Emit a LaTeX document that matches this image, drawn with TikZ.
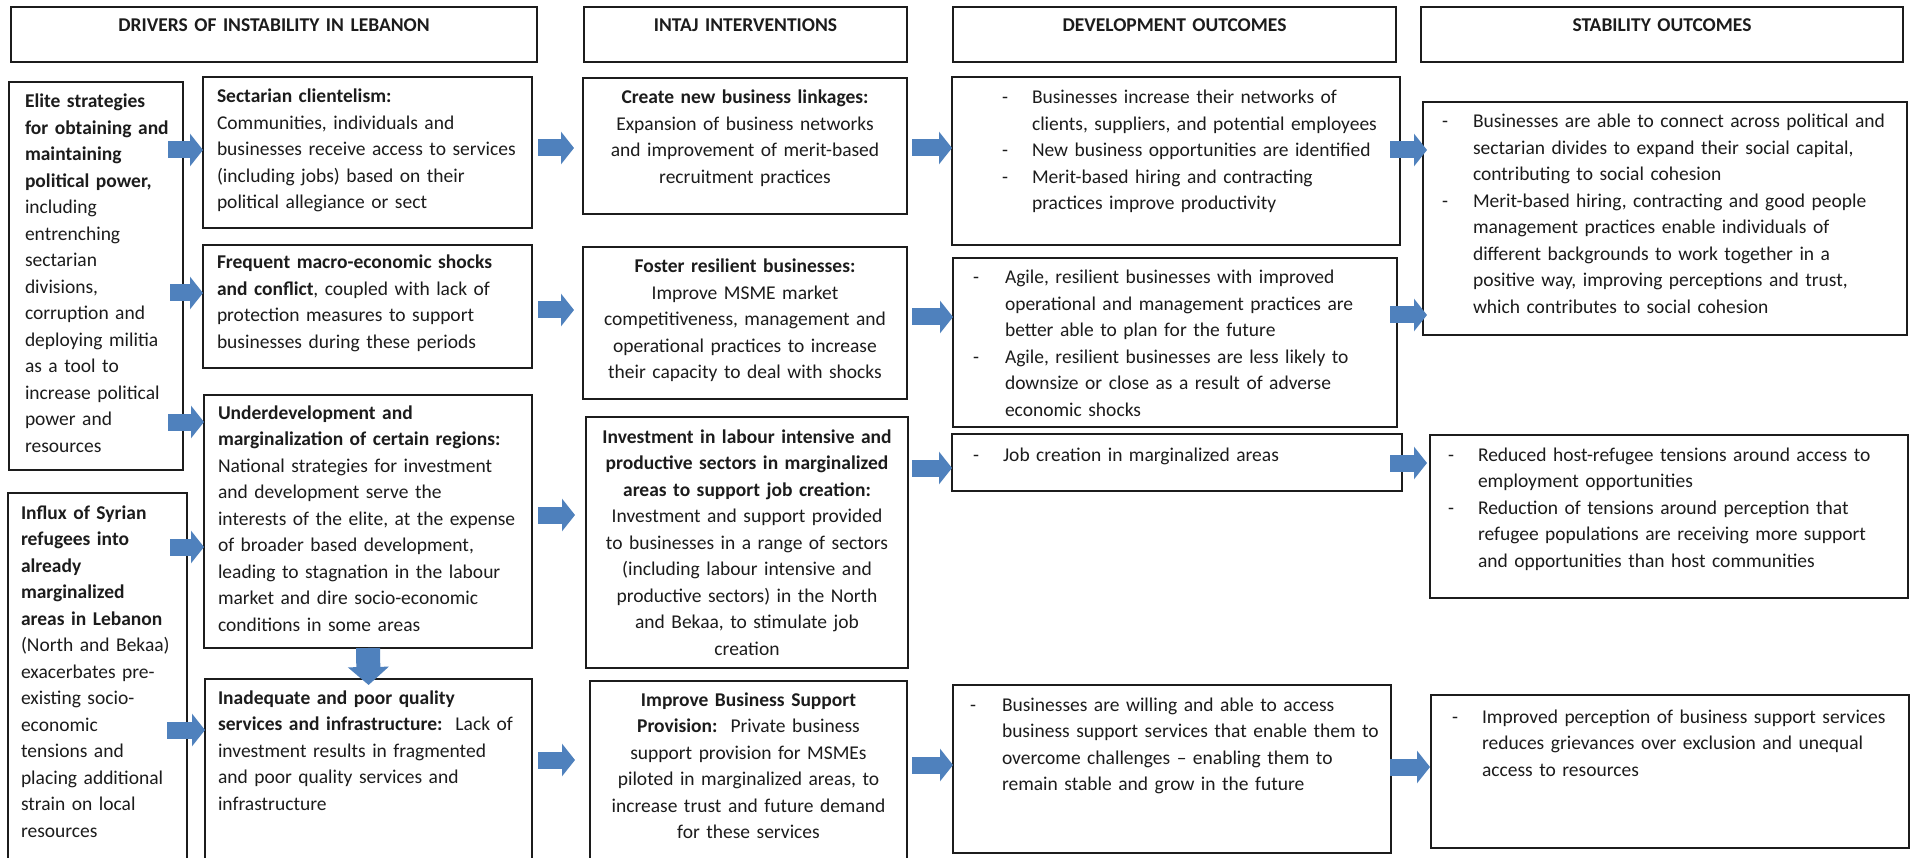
\documentclass[tikz,border=0pt]{standalone}
\usepackage{fontspec}
\setmainfont{Carlito}
\usetikzlibrary{arrows.meta}
\definecolor{arrowblue}{RGB}{79,129,189}
\definecolor{ink}{RGB}{28,28,28}
\begin{document}
\begin{tikzpicture}[x=1pt,y=-1pt,
  box/.style={draw=ink, line width=1.3pt, inner sep=0pt, outer sep=0pt, anchor=north west},
  txt/.style={inner sep=0pt, outer sep=0pt, font=\fontsize{19.5}{26.5}\selectfont, text=ink},
  ltxt/.style={txt, anchor=base west, align=left, text width=470pt},
  ctxt/.style={txt, anchor=base, align=center},
  htxt/.style={ctxt, font=\fontsize{19.5}{26.5}\selectfont\bfseries},
  barrow/.style={draw=arrowblue, line width=17pt, -{Triangle[length=13pt, width=32pt]}},
  darrow/.style={draw=arrowblue, line width=24pt, -{Triangle[length=18pt, width=40pt]}}
]
\useasboundingbox[fill=white] (0,0) rectangle (1911,858);

% ---------- header boxes ----------
\node[box, minimum width=526pt, minimum height=55pt] (h1) at (11,7) {};
\node[box, minimum width=323pt, minimum height=55pt] (h2) at (584,7) {};
\node[box, minimum width=443pt, minimum height=55pt] (h3) at (953,7) {};
\node[box, minimum width=482pt, minimum height=55pt] (h4) at (1421,7) {};
\node[htxt, text width=500pt] (h1t) at (h1.center |- 0,32) {DRIVERS OF INSTABILITY IN LEBANON};
\node[htxt, text width=300pt] (h2t) at (h2.center |- 0,32) {INTAJ INTERVENTIONS};
\node[htxt, text width=420pt] (h3t) at (h3.center |- 0,32) {DEVELOPMENT OUTCOMES};
\node[htxt, text width=460pt] (h4t) at (h4.center |- 0,32) {STABILITY OUTCOMES};

% ---------- column 1 ----------
\node[box, minimum width=174pt, minimum height=388pt] (elite) at (9,82) {};
\node[ltxt] (elitet) at (25,108) {\textbf{Elite strategies}\\\textbf{for obtaining and}\\\textbf{maintaining}\\\textbf{political power,}\\including\\entrenching\\sectarian\\divisions,\\corruption and\\deploying militia\\as a tool to\\increase political\\power and\\resources};

\node[box, minimum width=179pt, minimum height=370pt] (influx) at (8,493) {};
\node[ltxt] (influxt) at (21,519) {\textbf{Influx of Syrian}\\\textbf{refugees into}\\\textbf{already}\\\textbf{marginalized}\\\textbf{areas in Lebanon}\\(North and Bekaa)\\exacerbates pre-\\existing socio-\\economic\\tensions and\\placing additional\\strain on local\\resources};

% ---------- column 2 ----------
\node[box, minimum width=329pt, minimum height=151pt] (sect) at (203,77) {};
\node[ltxt] (sectt) at (217,103) {\textbf{Sectarian clientelism:}\\Communities, individuals and\\businesses receive access to services\\(including jobs) based on their\\political allegiance or sect};

\node[box, minimum width=329pt, minimum height=123pt] (freq) at (203,245) {};
\node[ltxt] (freqt) at (217,269) {\textbf{Frequent macro-economic shocks}\\\textbf{and conflict}, coupled with lack of\\protection measures to support\\businesses during these periods};

\node[box, minimum width=328pt, minimum height=253pt] (under) at (204,395) {};
\node[ltxt] (undert) at (218,419) {\textbf{Underdevelopment and}\\\textbf{marginalization of certain regions:}\\National strategies for investment\\and development serve the\\interests of the elite, at the expense\\of broader based development,\\leading to stagnation in the labour\\market and dire socio-economic\\conditions in some areas};

\node[box, minimum width=327pt, minimum height=185pt] (inad) at (205,679) {};
\node[ltxt] (inadt) at (218,704) {\textbf{Inadequate and poor quality}\\\textbf{services and infrastructure:}\ \ Lack of\\investment results in fragmented\\and poor quality services and\\infrastructure};

% ---------- column 3 ----------
\node[box, minimum width=324pt, minimum height=136pt] (create) at (583,78) {};
\node[ctxt, text width=320pt] (createt) at (create.center |- 0,104) {\textbf{Create new business linkages:}\\Expansion of business networks\\and improvement of merit-based\\recruitment practices};

\node[box, minimum width=324pt, minimum height=152pt] (foster) at (583,247) {};
\node[ctxt, text width=320pt] (fostert) at (foster.center |- 0,273) {\textbf{Foster resilient businesses:}\\Improve MSME market\\competitiveness, management and\\operational practices to increase\\their capacity to deal with shocks};

\node[box, minimum width=322pt, minimum height=251pt] (invest) at (586,417) {};
\node[ctxt, text width=320pt] (investt) at (invest.center |- 0,443) {\textbf{Investment in labour intensive and}\\\textbf{productive sectors in marginalized}\\\textbf{areas to support job creation:}\\Investment and support provided\\to businesses in a range of sectors\\(including labour intensive and\\productive sectors) in the North\\and Bekaa, to stimulate job\\creation};

\node[box, minimum width=317pt, minimum height=185pt] (improve) at (590,681) {};
\node[ctxt, text width=315pt] (improvet) at (improve.center |- 0,706) {\textbf{Improve Business Support}\\\textbf{Provision:}\ \ Private business\\support provision for MSMEs\\piloted in marginalized areas, to\\increase trust and future demand\\for these services};

% ---------- column 4 ----------
\node[box, minimum width=448pt, minimum height=168pt] (dev1) at (952,77) {};
\node[ltxt] (dev1a) at (1002,104) {-};
\node[ltxt] (dev1b) at (1002,157) {-};
\node[ltxt] (dev1c) at (1002,183.5) {-};
\node[ltxt] (dev1t) at (1032,104) {Businesses increase their networks of\\clients, suppliers, and potential employees\\New business opportunities are identified\\Merit-based hiring and contracting\\practices improve productivity};

\node[box, minimum width=444pt, minimum height=169pt] (dev2) at (953,258) {};
\node[ltxt] (dev2a) at (973,284) {-};
\node[ltxt] (dev2b) at (973,363.5) {-};
\node[ltxt] (dev2t) at (1005,284) {Agile, resilient businesses with improved\\operational and management practices are\\better able to plan for the future\\Agile, resilient businesses are less likely to\\downsize or close as a result of adverse\\economic shocks};

\node[box, minimum width=450pt, minimum height=57pt] (dev3) at (952,434) {};
\node[ltxt] (dev3a) at (973,461) {-};
\node[ltxt] (dev3t) at (1003,461) {Job creation in marginalized areas};

\node[box, minimum width=438pt, minimum height=168pt] (dev4) at (953,685) {};
\node[ltxt] (dev4a) at (970,711) {-};
\node[ltxt] (dev4t) at (1002,711) {Businesses are willing and able to access\\business support services that enable them to\\overcome challenges – enabling them to\\remain stable and grow in the future};

% ---------- column 5 ----------
\node[box, minimum width=484pt, minimum height=233pt] (stab1) at (1423,102) {};
\node[ltxt] (stab1a) at (1442,128) {-};
\node[ltxt] (stab1b) at (1442,207.5) {-};
\node[ltxt] (stab1t) at (1473,128) {Businesses are able to connect across political and\\sectarian divides to expand their social capital,\\contributing to social cohesion\\Merit-based hiring, contracting and good people\\management practices enable individuals of\\different backgrounds to work together in a\\positive way, improving perceptions and trust,\\which contributes to social cohesion};

\node[box, minimum width=478pt, minimum height=163pt] (stab2) at (1430,435) {};
\node[ltxt] (stab2a) at (1448,461) {-};
\node[ltxt] (stab2b) at (1448,514) {-};
\node[ltxt] (stab2t) at (1478,461) {Reduced host-refugee tensions around access to\\employment opportunities\\Reduction of tensions around perception that\\refugee populations are receiving more support\\and opportunities than host communities};

\node[box, minimum width=478pt, minimum height=153pt] (stab3) at (1431,695) {};
\node[ltxt] (stab3a) at (1452,723) {-};
\node[ltxt] (stab3t) at (1482,723) {Improved perception of business support services\\reduces grievances over exclusion and unequal\\access to resources};

% ---------- arrows ----------
\draw[barrow, shorten <=-15pt] (elite.east |- 0,150) -- (sect.west |- 0,150);
\draw[barrow, shorten <=-13pt] (elite.east |- 0,293) -- (freq.west |- 0,293);
\draw[barrow, shorten <=-15pt] (elite.east |- 0,422) -- (under.west |- 0,422);
\draw[barrow, shorten <=-17pt] (influx.east |- 0,547) -- (under.west |- 0,547);
\draw[barrow, shorten <=-20pt] (influx.east |- 0,730) -- (inad.west |- 0,730);

\draw[barrow, shorten <=6pt, shorten >=9pt] (sect.east |- 0,148) -- (create.west |- 0,148);
\draw[barrow, shorten <=6pt, shorten >=9pt] (freq.east |- 0,310) -- (foster.west |- 0,310);
\draw[barrow, shorten <=6pt, shorten >=11pt] (under.east |- 0,515) -- (invest.west |- 0,515);
\draw[barrow, shorten <=6pt, shorten >=15pt] (inad.east |- 0,760) -- (improve.west |- 0,760);

\draw[barrow, shorten <=5pt] (create.east |- 0,148) -- (dev1.west |- 0,148);
\draw[barrow, shorten <=5pt] (foster.east |- 0,317) -- (dev2.west |- 0,317);
\draw[barrow, shorten <=4pt] (invest.east |- 0,468) -- (dev3.west |- 0,468);
\draw[barrow, shorten <=5pt] (improve.east |- 0,765) -- (dev4.west |- 0,765);

\draw[barrow, shorten <=-10pt, shorten >=-4pt] (dev1.east |- 0,150) -- (stab1.west |- 0,150);
\draw[barrow, shorten <=-7pt, shorten >=-4pt] (dev2.east |- 0,315) -- (stab1.west |- 0,315);
\draw[barrow, shorten <=-12pt, shorten >=3pt] (dev3.east |- 0,463) -- (stab2.west |- 0,463);
\draw[barrow, shorten <=-1pt, shorten >=1pt] (dev4.east |- 0,767) -- (stab3.west |- 0,767);

\draw[darrow, shorten >=-6pt] (under.south) -- (inad.north);
\end{tikzpicture}
\end{document}
